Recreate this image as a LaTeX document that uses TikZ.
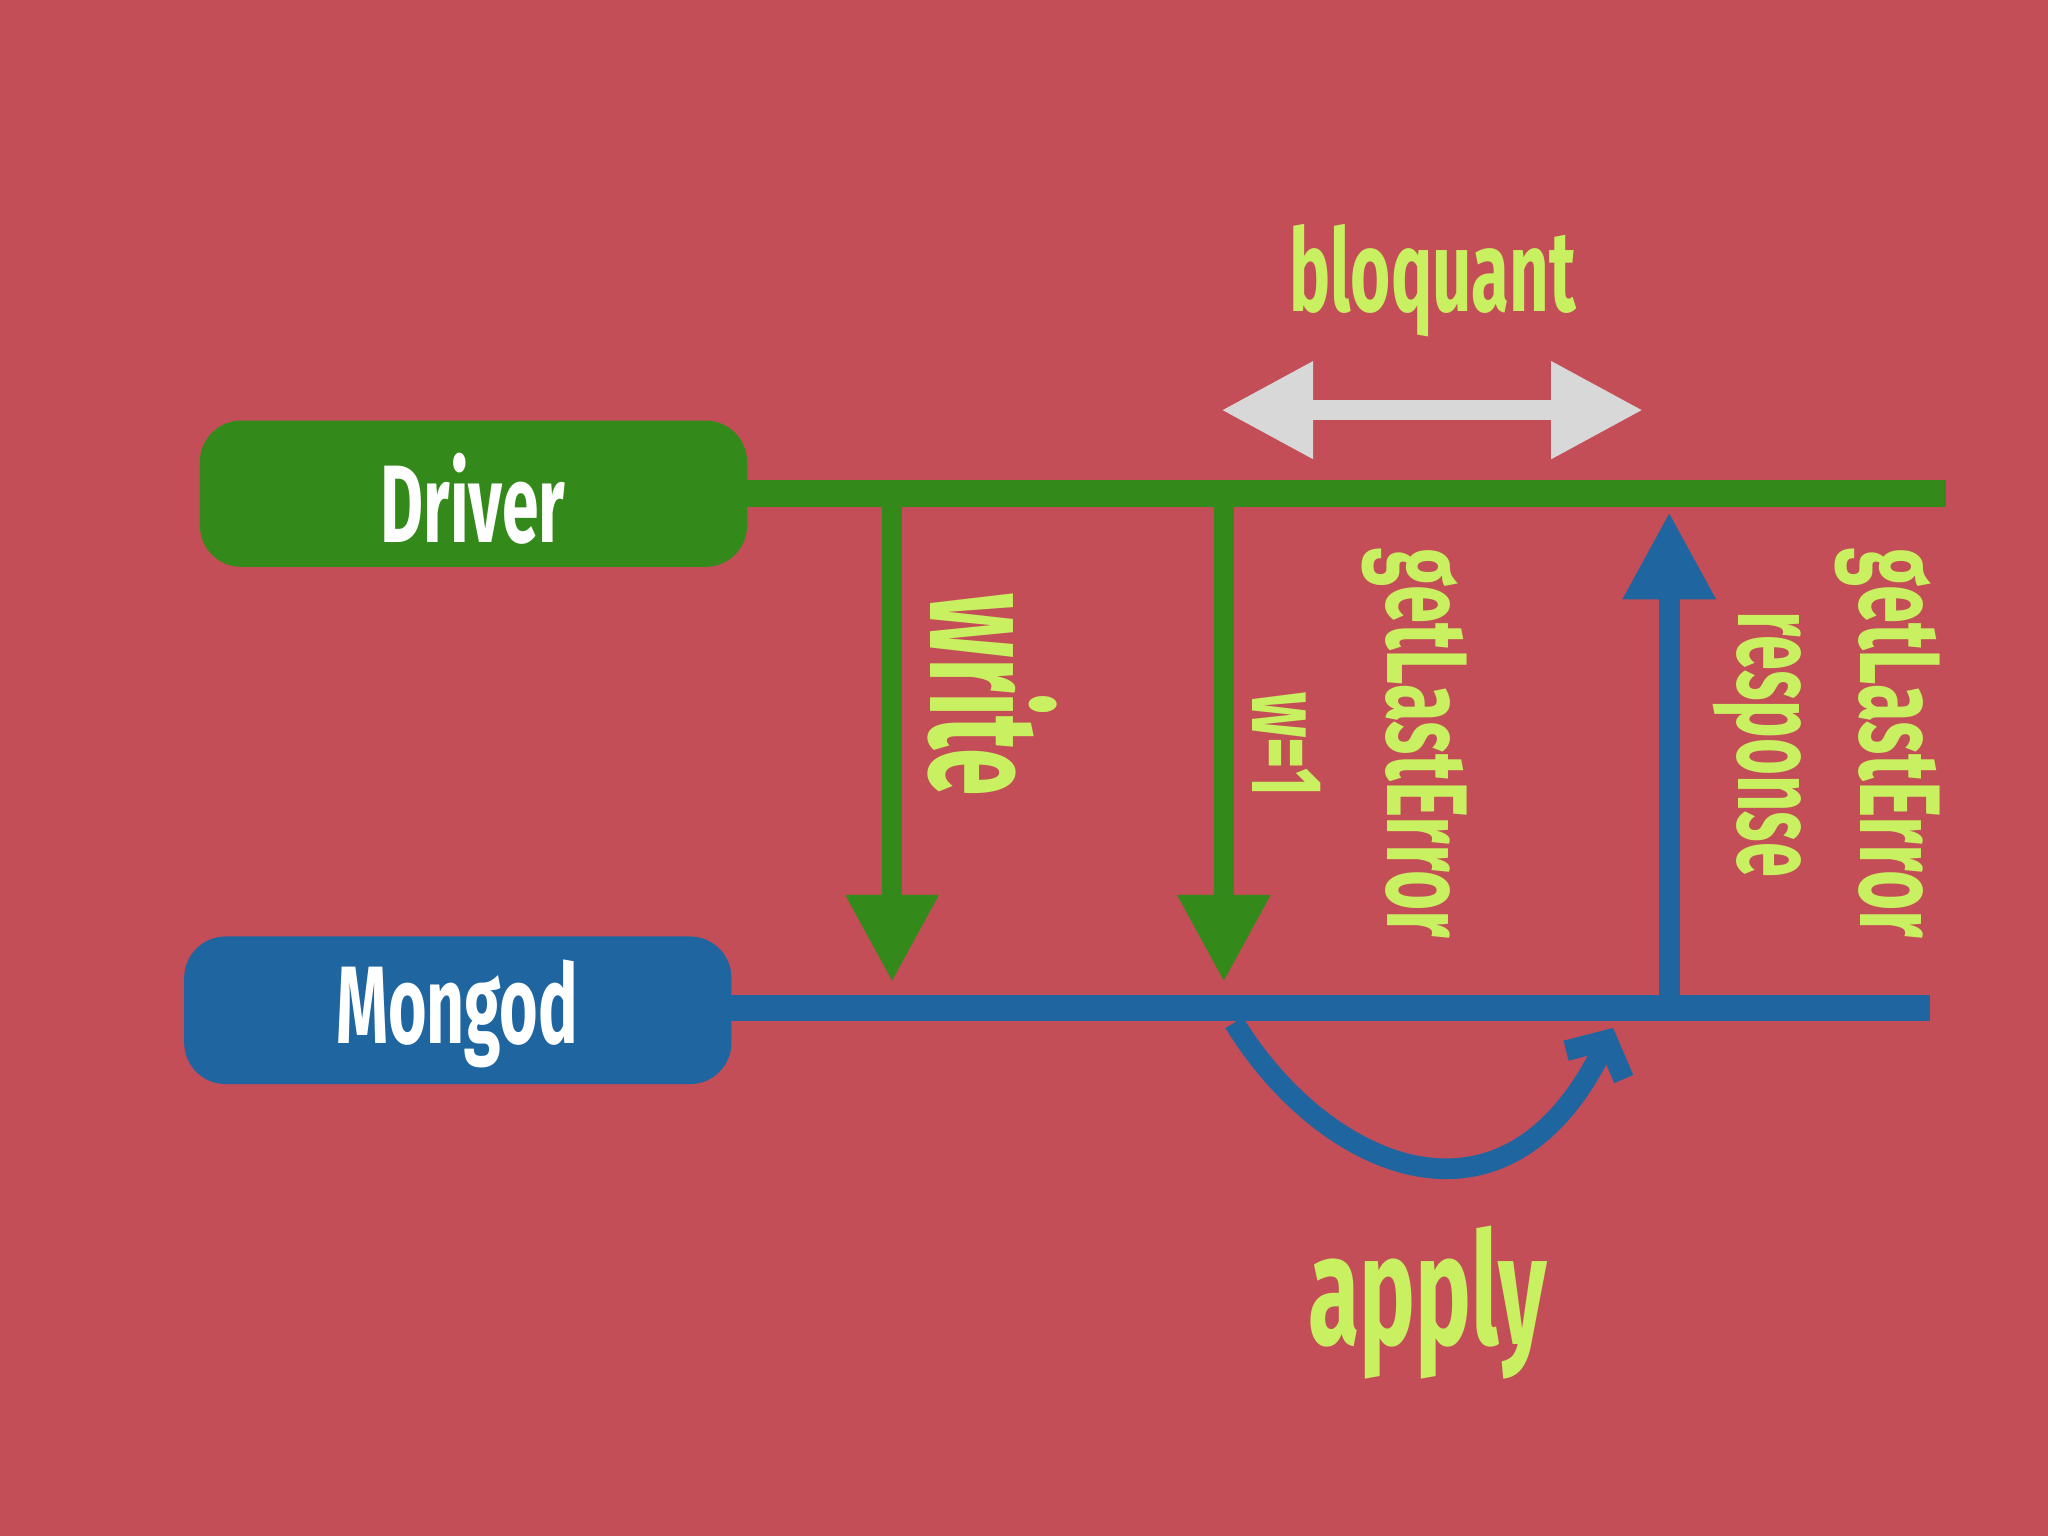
\documentclass[tikz,border=0pt]{standalone}
\usepackage{fontspec}
\setmainfont{Fira Sans}
\usetikzlibrary{arrows.meta}
\definecolor{bg}{HTML}{C44E57}
\definecolor{drv}{HTML}{338A1A}
\definecolor{mgd}{HTML}{1F65A0}
\definecolor{lbl}{HTML}{C8F060}
\definecolor{blk}{HTML}{D8D8D8}
\newcommand{\cond}[1]{\scalebox{0.6}[1]{#1}}
\begin{document}
\begin{tikzpicture}[x=0.01cm,y=-0.01cm]
\tikzstyle{box}=[rounded corners=9pt,inner sep=0pt]
\tikzstyle{title}=[text=white,font=\bfseries\fontsize{24}{24}\selectfont]
\tikzstyle{label}=[text=lbl,font=\bfseries\fontsize{25}{25}\selectfont]
\tikzstyle{msg}=[line width=4.5pt,-{Triangle[width=19pt,length=19pt]}]
% background
\fill[bg] (0,0) rectangle (1568,1176);
\useasboundingbox (0,0) rectangle (1568,1176);
% the two lanes
\fill[drv,box] (153,322) rectangle (572,434);
\node[title] (driver) at (362,382) {\cond{Driver}};
\fill[mgd,box] (141,717) rectangle (560,830);
\node[title] (mongod) at (350,776) {\cond{Mongod}};
\coordinate (d0) at (560,378);
\coordinate (d1) at (1490,378);
\coordinate (m0) at (550,772);
\coordinate (m1) at (1478,772);
\draw[drv,line width=6pt] (d0) -- (d1);
\draw[mgd,line width=5.6pt] (m0) -- (m1);
% messages
\coordinate (w0) at (683,385);
\coordinate (w1) at (683,752);
\coordinate (g0) at (937,385);
\coordinate (g1) at (937,752);
\coordinate (r0) at (1278,770);
\coordinate (r1) at (1278,392);
\draw[msg,drv] (w0) -- (w1);
\draw[msg,drv] (g0) -- (g1);
\draw[msg,mgd] (r0) -- (r1);
% blocking span
\coordinate (b0) at (935,314);
\coordinate (b1) at (1258,314);
\draw[blk,line width=4.5pt,{Triangle[width=20pt,length=20pt]}-{Triangle[width=20pt,length=20pt]}] (b0) -- (b1);
\node[label] (bloquant) at (1097,215) {\cond{bloquant}};
% apply loop
\coordinate (a0) at (945,783);
\coordinate (a1) at (1235,787);
\draw[mgd,line width=4.5pt,-{Straight Barb[width=14pt,length=6pt]}] (a0) .. controls (1010,890) and (1150,960) .. (a1);
\node[label,font=\bfseries\fontsize{34}{34}\selectfont] (apply) at (1093,997) {\cond{apply}};
% vertical labels
\node[label,rotate=-90,font=\bfseries\fontsize{34}{34}\selectfont] (write) at (760,532) {\scalebox{0.55}[1]{write}};
\node[label,rotate=-90,font=\bfseries\fontsize{22}{22}\selectfont] (wone) at (985,570) {\cond{w=1}};
\node[label,rotate=-90] (gle) at (1083,569) {\cond{getLastError}};
\node[label,rotate=-90] (resp) at (1345,570) {\scalebox{0.55}[1]{response}};
\node[label,rotate=-90] (gle2) at (1445,569) {\cond{getLastError}};
\end{tikzpicture}
\end{document}
